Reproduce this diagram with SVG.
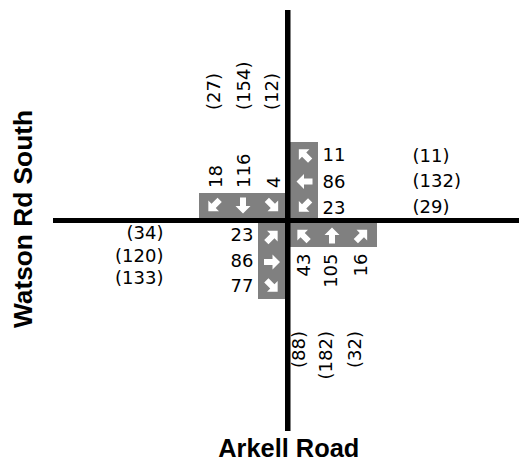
<svg xmlns="http://www.w3.org/2000/svg" xmlns:xlink="http://www.w3.org/1999/xlink" width="519" height="472" viewBox="0 0 519 472">
<style>
.v{font-family:"DejaVu Sans",sans-serif;font-size:18px;fill:#000}
.e{text-anchor:end}
.t{font-family:"Liberation Sans",Arial,sans-serif;font-weight:bold;font-size:25px;fill:#000;text-anchor:middle}
.box{fill:#808080}
</style>
<defs>
<path id="arr" d="M0,-8 L7.5,-0.5 L3,-0.5 L3,8 L-3,8 L-3,-0.5 L-7.5,-0.5 Z" fill="#fff"/>
</defs>
<rect width="519" height="472" fill="#fff"/>
<g id="southbound">
<rect class="box" x="199" y="193" width="86" height="25"/>
<use xlink:href="#arr" transform="translate(214,205.5) rotate(225)"/>
<use xlink:href="#arr" transform="translate(243,205.5) rotate(180)"/>
<use xlink:href="#arr" transform="translate(272.5,205.5) rotate(135)"/>
<text class="v" transform="translate(221.5,188) rotate(-90)">18</text>
<text class="v" transform="translate(250,188) rotate(-90)">116</text>
<text class="v" transform="translate(280,188) rotate(-90)">4</text>
<text class="v" transform="translate(220,110) rotate(-90)">(27)</text>
<text class="v" transform="translate(249.5,110) rotate(-90)">(154)</text>
<text class="v" transform="translate(278,110) rotate(-90)">(12)</text>
</g>
<g id="westbound">
<rect class="box" x="290" y="142" width="28" height="76"/>
<use xlink:href="#arr" transform="translate(304.5,155) rotate(-45)"/>
<use xlink:href="#arr" transform="translate(304.5,181.5) rotate(-90)"/>
<use xlink:href="#arr" transform="translate(304.5,206) rotate(-135)"/>
<text class="v" x="322.5" y="160.5">11</text>
<text class="v" x="322.5" y="187.5">86</text>
<text class="v" x="322.5" y="214">23</text>
<text class="v" x="412.5" y="162">(11)</text>
<text class="v" x="412.5" y="187">(132)</text>
<text class="v" x="412.5" y="212.5">(29)</text>
</g>
<g id="northbound">
<rect class="box" x="290" y="223" width="87" height="24"/>
<use xlink:href="#arr" transform="translate(303,235.5) rotate(-45)"/>
<use xlink:href="#arr" transform="translate(332,235.5)"/>
<use xlink:href="#arr" transform="translate(361.5,235.5) rotate(45)"/>
<text class="v e" transform="translate(310,253.5) rotate(-90)">43</text>
<text class="v e" transform="translate(337,253.5) rotate(-90)">105</text>
<text class="v e" transform="translate(367,253.5) rotate(-90)">16</text>
<text class="v e" transform="translate(304.5,331) rotate(-90)">(88)</text>
<text class="v e" transform="translate(332,331) rotate(-90)">(182)</text>
<text class="v e" transform="translate(360.5,331) rotate(-90)">(32)</text>
</g>
<g id="eastbound">
<rect class="box" x="258" y="223" width="27" height="76"/>
<use xlink:href="#arr" transform="translate(272,236.5) rotate(45)"/>
<use xlink:href="#arr" transform="translate(272,262) rotate(90)"/>
<use xlink:href="#arr" transform="translate(272,286) rotate(135)"/>
<text class="v e" x="253.5" y="240.5">23</text>
<text class="v e" x="253.5" y="266.5">86</text>
<text class="v e" x="253.5" y="291.5">77</text>
<text class="v e" x="163.5" y="239">(34)</text>
<text class="v e" x="163.5" y="261.5">(120)</text>
<text class="v e" x="163.5" y="284">(133)</text>
</g>
<g id="roads">
<rect x="285" y="10" width="5.5" height="421" fill="#000"/>
<rect x="53" y="218" width="466" height="5" fill="#000"/>
</g>
<g id="labels">
<text class="t" transform="translate(32,219) rotate(-90)" textLength="218" lengthAdjust="spacingAndGlyphs">Watson Rd South</text>
<text class="t" x="288.8" y="456.5" textLength="141" lengthAdjust="spacingAndGlyphs">Arkell Road</text>
</g>
</svg>
